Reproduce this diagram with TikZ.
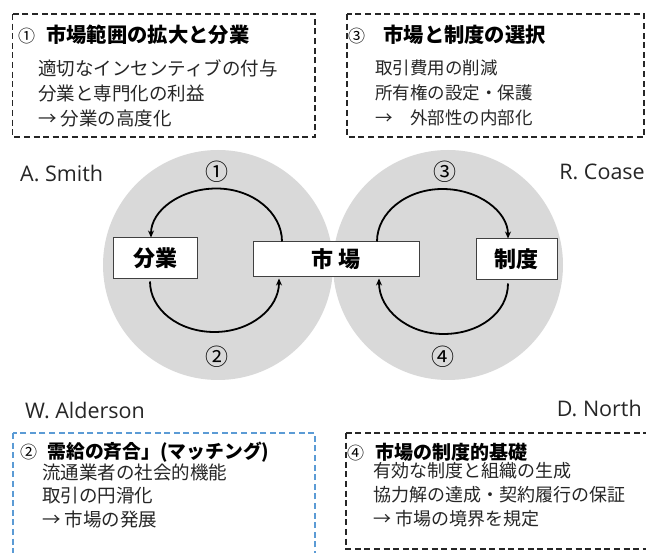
\documentclass[tikz,border=0pt]{standalone}
\usepackage{fontspec}
\setmainfont{Noto Sans CJK JP}
\newfontfamily\lat{Open Sans}
\usetikzlibrary{arrows.meta,calc}
\definecolor{circgray}{HTML}{D9D9D9}
\definecolor{blueline}{HTML}{5B9BD5}
\definecolor{boxline}{HTML}{404040}
\definecolor{txt}{HTML}{262626}
\newcommand{\tnum}[2][0.55em]{{\mdseries\fontsize{17}{20}\selectfont #2}\hspace{#1}}
\begin{document}
\begin{tikzpicture}[x=1pt,y=-1pt,
  dbox/.style={draw=black!85, line width=1.4pt, dash pattern=on 6pt off 3.6pt},
  bdbox/.style={draw=blueline, line width=1.4pt, dash pattern=on 6pt off 3.6pt},
  ttl/.style={anchor=west, inner sep=0pt, text=black, font=\fontsize{20.3}{24}\selectfont\bfseries},
  bodytxt/.style={anchor=west, inner sep=0pt, text=txt, font=\fontsize{18.5}{22}\selectfont},
  smallbody/.style={bodytxt, font=\fontsize{17.5}{21}\selectfont},
  person/.style={inner sep=0pt, text=txt, font=\lat\fontsize{21.5}{25}\selectfont},
  concept/.style={draw=boxline, fill=white, line width=1pt, inner sep=0pt, font=\fontsize{22}{26}\selectfont\bfseries},
  num/.style={inner sep=0pt, text=black, font=\fontsize{23}{26}\selectfont},
  arr/.style={draw=black, line width=1.8pt, -{Stealth[length=7pt,width=6pt]}}
]
\useasboundingbox (0,0) rectangle (646,553);
\fill[white] (0,0) rectangle (646,553);

% circles
\fill[circgray] (218,265) circle[radius=115pt];
\fill[circgray] (448,265) circle[radius=115pt];

% concept nodes
\node[concept, minimum width=84pt, minimum height=41pt] (div) at (155,258.5) {分業};
\node[concept, minimum width=166pt, minimum height=35pt] (mkt) at (336,259.5) {市 場};
\node[concept, minimum width=81pt, minimum height=41pt] (inst) at (516.5,259.5) {制度};

% arrow end points
\coordinate (s1) at ([xshift=-54pt]mkt.north);
\coordinate (e1) at ([xshift=-4pt]div.north);
\coordinate (m1) at ($(s1)!0.5!(e1)+(0,-51)$);
\coordinate (s2) at ([xshift=-5pt,yshift=-2pt]div.south);
\coordinate (e2) at ([xshift=-57pt,yshift=-1pt]mkt.south);
\coordinate (m2) at ($(s2)!0.5!(e2)+(0,52)$);
\coordinate (s3) at ([xshift=41pt]mkt.north);
\coordinate (e3) at ([xshift=-8.5pt]inst.north);
\coordinate (m3) at ($(s3)!0.5!(e3)+(0,-51)$);
\coordinate (s4) at ([xshift=-8.5pt,yshift=-3pt]inst.south);
\coordinate (e4) at ([xshift=43pt,yshift=-1pt]mkt.south);
\coordinate (m4) at ($(s4)!0.5!(e4)+(0,53)$);

% arrows
\draw[arr] (s1) .. controls +(0,-29) and +(36,0) .. (m1) .. controls +(-36,0) and +(0,-27) .. (e1);
\draw[arr] (s2) .. controls +(0,28) and +(-36,0) .. (m2) .. controls +(36,0) and +(0,30) .. (e2);
\draw[arr] (s3) .. controls +(0,-29) and +(-36,0) .. (m3) .. controls +(36,0) and +(0,-27) .. (e3);
\draw[arr] (s4) .. controls +(0,29) and +(36,0) .. (m4) .. controls +(-36,0) and +(0,31) .. (e4);

% numbers
\node[num] (n1) at (217,172) {①};
\node[num] (n2) at (217,357) {②};
\node[num] (n3) at (445,172) {③};
\node[num] (n4) at (443,357) {④};

% persons
\node[person, anchor=west] (smith) at (20,173) {A. Smith};
\node[person, anchor=east] (coase) at (645,172) {R. Coase};
\node[person, anchor=west] (alderson) at (25,410) {W. Alderson};
\node[person, anchor=east] (north) at (642,408) {D. North};

% box 1
\draw[dbox] (12.5,14) rectangle (315,137);
\node[ttl] (t1) at (18,35) {\tnum{①}市場範囲の拡大と分業};
\node[bodytxt] (b1a) at (38,68) {適切なインセンティブの付与};
\node[bodytxt] (b1b) at (38,94) {分業と専門化の利益};
\node[bodytxt] (b1c) at (38,119) {→ 分業の高度化};

% box 3
\draw[dbox] (347,14) rectangle (644,137);
\node[ttl] (t3) at (348,35) {\tnum[0.9em]{③}市場と制度の選択};
\node[smallbody] (b3a) at (375,68) {取引費用の削減};
\node[smallbody] (b3b) at (375,93) {所有権の設定・保護};
\node[smallbody] (b3c) at (375,118) {→　外部性の内部化};

% box 2
\draw[bdbox] (13,433) rectangle (315,560);
\node[ttl, font=\fontsize{18.8}{23}\selectfont\bfseries] (t2) at (20,452) {\tnum[0.55em]{②}需給の斉合」(マッチング)};
\node[bodytxt] (b2a) at (42,472) {流通業者の社会的機能};
\node[bodytxt] (b2b) at (42,496) {取引の円滑化};
\node[bodytxt] (b2c) at (42,519) {→ 市場の発展};

% box 4
\draw[dbox] (346,433) rectangle (660,549);
\node[ttl, font=\fontsize{19}{23}\selectfont\bfseries] (t4) at (347,452) {\tnum[0.6em]{④}市場の制度的基礎};
\node[bodytxt, font=\fontsize{18}{22}\selectfont] (b4a) at (373,471) {有効な制度と組織の生成};
\node[bodytxt, font=\fontsize{18}{22}\selectfont] (b4b) at (373,495) {協力解の達成・契約履行の保証};
\node[bodytxt, font=\fontsize{18}{22}\selectfont] (b4c) at (373,519) {→ 市場の境界を規定};
\end{tikzpicture}
\end{document}
